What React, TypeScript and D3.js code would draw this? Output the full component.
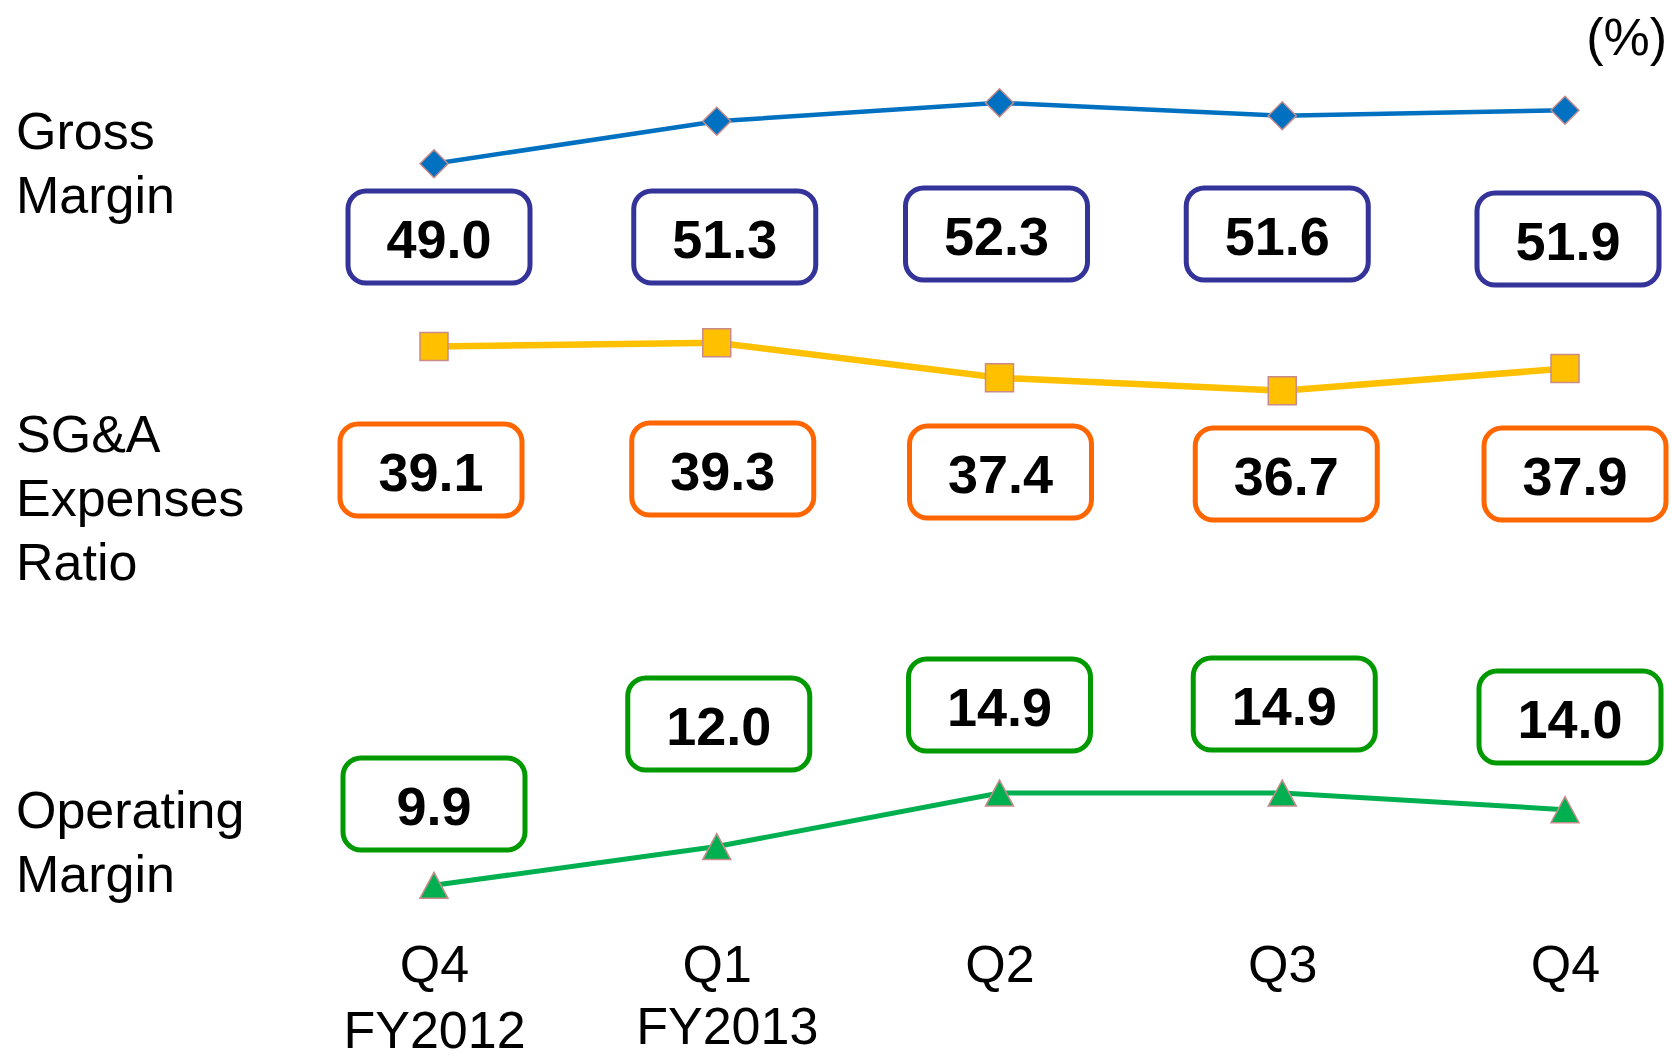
import { FC, useEffect, useRef } from 'react';
import * as d3 from 'd3';

// quarters on the x axis
const quarterLabels = ['Q4', 'Q1', 'Q2', 'Q3', 'Q4'];
const fiscalYears = ['FY2012', 'FY2013', '', '', ''];

// ratios in %
const grossMargin = [49.0, 51.3, 52.3, 51.6, 51.9];
const sgaRatio = [39.1, 39.3, 37.4, 36.7, 37.9];
const operatingMargin = [9.9, 12.0, 14.9, 14.9, 14.0];

const rowNames = [['Gross', 'Margin'], ['SG&A', 'Expenses', 'Ratio'], ['Operating', 'Margin']];

const FONT = '"Liberation Sans", Arial, Helvetica, sans-serif';

const Chart: FC<{ width?: number; height?: number }> = ({ width = 1672, height = 1060 }) => {
  const svgRef = useRef<SVGSVGElement | null>(null);

  useEffect(() => {
    if (!svgRef.current) return;
    const svg = d3.select(svgRef.current);
    svg.selectAll('*').remove();

    const idx = d3.range(quarterLabels.length);

    const x = d3.scalePoint<number>().domain(idx).range([434, 1565]);
    const y = d3.scaleLinear().domain([0, 55]).range([1068, 53]);

    const series = [
      {
        values: grossMargin,
        line: '#0070C0', lineWidth: 4.5, box: '#333399', marker: 'diamond',
        boxDx: [5, 8, -3, -5, 3], boxCy: [237, 237, 234, 234, 239],
        nameY: 149,
      },
      {
        values: sgaRatio,
        line: '#FFC000', lineWidth: 6.5, box: '#FF6600', marker: 'square',
        boxDx: [-3, 6, 1, 4, 10], boxCy: [470, 469, 472, 474, 474],
        nameY: 452,
      },
      {
        values: operatingMargin,
        line: '#00B050', lineWidth: 5, box: '#009900', marker: 'triangle',
        boxDx: [0, 2, 0, 2, 5], boxCy: [804, 724, 705, 704, 717],
        nameY: 828,
      },
    ];

    const boxW = 182;
    const boxH = 92;

    const line = d3.line<number>()
      .x((_, i) => x(i) as number)
      .y(d => y(d));

    const markerPath = (kind: string) => {
      if (kind === 'diamond') return 'M0,-14L14,0L0,14L-14,0Z';
      if (kind === 'square') return 'M-14,-14H14V14H-14Z';
      return 'M0,-13L14,13L-14,13Z';
    };

    series.forEach((s, si) => {
      const g = svg.append('g');

      g.append('path')
        .datum(s.values)
        .attr('fill', 'none')
        .attr('stroke', s.line)
        .attr('stroke-width', s.lineWidth)
        .attr('d', line);

      g.selectAll('path.marker')
        .data(s.values)
        .enter()
        .append('path')
        .attr('class', 'marker')
        .attr('transform', (d, i) => `translate(${x(i)},${y(d)})`)
        .attr('d', markerPath(s.marker))
        .attr('fill', s.line)
        .attr('stroke', '#c98a8a')
        .attr('stroke-width', 1.5);

      const labels = g.selectAll('g.lbl')
        .data(s.values)
        .enter()
        .append('g')
        .attr('class', 'lbl')
        .attr('transform', (_, i) => `translate(${(x(i) as number) + s.boxDx[i]},${s.boxCy[i]})`);

      labels.append('rect')
        .attr('x', -boxW / 2)
        .attr('y', -boxH / 2)
        .attr('width', boxW)
        .attr('height', boxH)
        .attr('rx', 18)
        .attr('fill', '#fff')
        .attr('stroke', s.box)
        .attr('stroke-width', 5);

      labels.append('text')
        .attr('y', 21)
        .attr('text-anchor', 'middle')
        .attr('font-family', FONT)
        .attr('font-weight', 'bold')
        .attr('font-size', 54)
        .attr('fill', '#000')
        .text(d => d.toFixed(1));

      // row name on the left
      const name = svg.append('text')
        .attr('font-family', FONT)
        .attr('font-size', 52)
        .attr('fill', '#000');
      rowNames[si].forEach((t, li) => {
        name.append('tspan')
          .attr('x', 16)
          .attr('y', s.nameY + li * 64)
          .text(t);
      });
    });

    // x axis: quarter + fiscal year
    const xAxis = svg.append('g')
      .attr('transform', 'translate(0,940)')
      .call(d3.axisBottom(x).tickSize(0).tickFormat(() => ''));
    xAxis.select('.domain').remove();
    xAxis.selectAll('.tick text').remove();
    xAxis.selectAll('.tick')
      .append('text')
      .attr('text-anchor', 'middle')
      .attr('font-family', FONT)
      .attr('font-size', 52)
      .attr('fill', '#000')
      .each(function (d: any) {
        const t = d3.select(this);
        t.append('tspan').attr('x', 0).attr('y', 42).text(quarterLabels[d]);
        if (fiscalYears[d]) {
          t.append('tspan').attr('x', d === 0 ? 0 : 10).attr('y', d === 0 ? 108 : 104).text(fiscalYears[d]);
        }
      });

    svg.append('text')
      .attr('x', 1667)
      .attr('y', 55)
      .attr('text-anchor', 'end')
      .attr('font-family', FONT)
      .attr('font-size', 52)
      .attr('fill', '#000')
      .text('(%)');
  }, [width, height]);

  return (
    <svg
      ref={svgRef}
      width={width}
      height={height}
      style={{ position: 'absolute', left: 0, top: 0, background: '#fff' }}
    />
  );
};

export default function App() {
  return <Chart />;
}
